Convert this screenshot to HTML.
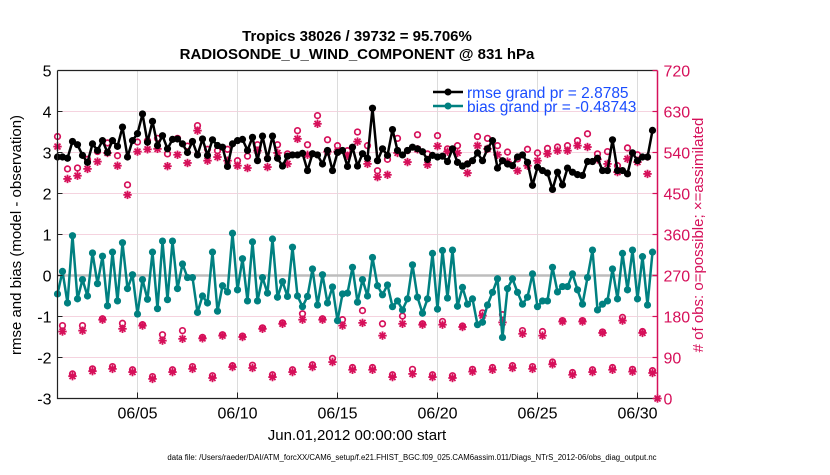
<!DOCTYPE html>
<html><head><meta charset="utf-8"><style>
body{margin:0;background:#fff;}
svg{font-family:"Liberation Sans",sans-serif;}
</style></head><body>
<svg id="chart" width="830" height="470" viewBox="0 0 830 470" xmlns="http://www.w3.org/2000/svg">
<g id="grid"></g>
<g id="marks"></g>
<g id="axes"></g>
<text x="357" y="41" text-anchor="middle" font-size="15" font-weight="bold">Tropics 38026 / 39732 = 95.706%</text>
<text x="357" y="59" text-anchor="middle" font-size="15" font-weight="bold">RADIOSONDE_U_WIND_COMPONENT @ 831 hPa</text>
<text transform="translate(21,235) rotate(-90)" text-anchor="middle" font-size="15">rmse and bias (model - observation)</text>
<text transform="translate(703,235) rotate(-90)" text-anchor="middle" font-size="15" fill="#d6105a"># of obs: o=possible; ×=assimilated</text>
<text x="357" y="440" text-anchor="middle" font-size="15">Jun.01,2012 00:00:00 start</text>
<text x="412" y="460" text-anchor="middle" font-size="7.8">data file: /Users/raeder/DAI/ATM_forcXX/CAM6_setup/f.e21.FHIST_BGC.f09_025.CAM6assim.011/Diags_NTrS_2012-06/obs_diag_output.nc</text>
<g>
<line x1="433" y1="92" x2="463" y2="92" stroke="#000" stroke-width="2.5"/>
<circle cx="448" cy="92" r="3.5" fill="#000"/>
<text x="467" y="98" font-size="15.5" fill="#1a4dff">rmse grand pr = 2.8785</text>
<line x1="433" y1="106" x2="463" y2="106" stroke="#008080" stroke-width="2.5"/>
<circle cx="448" cy="106" r="3.5" fill="#008080"/>
<text x="467" y="112" font-size="15.5" fill="#1a4dff">bias grand pr = -0.48743</text>
</g>
</svg>
<script>
const rmse=[2.89,2.89,2.86,3.27,3.19,2.93,2.76,3.21,3.05,3.29,3.0,3.29,3.15,3.62,2.89,3.29,3.46,3.94,3.25,3.76,3.17,3.41,3.09,3.32,3.33,3.21,3.0,3.27,2.94,3.33,2.93,3.31,3.17,3.13,2.66,3.21,3.29,3.32,3.05,3.37,
2.8,3.4,2.85,3.4,2.86,2.67,2.91,2.94,2.94,2.98,2.56,2.97,2.94,2.72,3.05,2.56,3.0,3.05,2.66,3.13,2.67,2.97,2.86,4.08,2.8,3.09,2.93,3.56,3.05,2.94,3.05,3.13,3.09,3.02,2.83,2.93,2.89,2.91,2.78,3.09,
2.76,2.67,2.72,2.8,2.99,2.8,3.09,3.29,2.62,2.8,2.72,2.68,2.89,2.94,2.76,2.2,2.64,2.56,2.5,2.1,2.52,2.21,2.62,2.52,2.46,2.44,2.78,2.78,2.86,2.56,2.56,3.31,2.56,2.56,2.48,2.99,2.8,2.89,2.89,3.54];
const bias=[-0.45,0.1,-0.67,0.97,-0.57,-0.1,-0.5,0.55,-0.2,0.47,-0.74,0.57,-0.62,0.8,-0.32,0.02,-0.94,-0.1,-0.58,0.57,-0.81,0.84,-0.59,0.84,-0.32,0.28,-0.05,-0.05,-0.9,-0.5,-0.67,0.57,-0.87,-0.25,-0.4,1.03,-0.35,0.41,-0.62,0.82,
-0.62,-0.05,-0.43,0.89,-0.53,-0.15,-0.51,0.69,-0.5,-0.76,-0.51,0.16,-0.72,0.02,-0.67,-0.28,-1.1,-0.45,-0.43,0.2,-0.65,-0.1,-0.5,0.44,-0.25,-0.47,-0.23,-0.76,-0.62,-0.84,-0.57,0.26,-0.53,-0.92,-0.57,0.54,-0.82,0.61,-0.55,0.62,
-0.75,-0.29,-0.7,-0.57,-1.2,-1.14,-0.72,-0.41,-0.08,-1.51,-0.32,-0.08,-0.41,-0.7,-0.53,0.04,-0.76,-0.62,-0.62,0.2,-0.4,-0.27,-0.27,0.04,-0.35,-0.7,-0.05,0.62,-0.84,-0.7,-0.62,0.16,-0.57,0.54,-0.35,0.62,-0.57,0.46,-0.72,0.57];
// obs counts at 00Z/12Z (every 12h from day 0)
const possMain=[575,504,506,525,542,561,533,469,563,566,571,537,571,554,599,547,544,547,522,532,557,527,557,537,588,557,621,568,555,544,585,555,500,525,571,544,579,537,577,548,555,515,575,571,555,541,526,547,539,549,552,555,566,581,537,542,511,550,535,530,0];
const assimMain=[553,482,489,504,520,539,511,447,542,547,548,510,535,517,588,522,530,522,511,506,544,508,539,515,570,535,603,542,542,533,564,515,486,491,539,519,547,513,554,542,539,495,555,548,535,520,500,511,522,537,544,544,555,552,525,515,497,526,519,493,0];
// obs counts at 06Z (daily)
const poss06=[160,160,175,165,162,140,149,134,140,137,155,166,186,175,173,193,164,181,164,169,159,188,184,149,147,171,171,146,178,147];
const assim06=[147,149,173,153,160,127,131,132,138,135,153,164,173,173,160,166,138,164,162,162,157,182,167,142,138,169,169,144,171,144];
// obs counts at 18Z (daily)
const poss18=[54,65,70,63,48,63,70,50,72,73,52,63,74,88,68,68,52,64,52,50,64,68,72,70,80,57,63,68,64,61];
const assim18=[49,60,65,58,43,58,65,45,69,67,47,58,69,80,63,63,47,54,47,45,59,63,67,65,75,52,58,63,59,56];
const yTicks=[5,4,3,2,1,0,-1,-2,-3];
const y2Ticks=[720,630,540,450,360,270,180,90,0];
const xTickDays=[4,9,14,19,24,29];
const xTickLabels=['06/05','06/10','06/15','06/20','06/25','06/30'];

const NS='http://www.w3.org/2000/svg';
const L=57.5,R=657.5,T=70.5,B=398.5;
const xs=d=>L+(d/30)*(R-L);
const ys=v=>T+(5-v)/8*(B-T);
const y2s=c=>B-c/720*(B-T);
const MAG='#d6105a';
function mk(tag,attrs,parent){const e=document.createElementNS(NS,tag);for(const k in attrs)e.setAttribute(k,attrs[k]);parent.appendChild(e);return e;}
const grid=document.getElementById('grid'),marks=document.getElementById('marks'),axes=document.getElementById('axes');

y2Ticks.forEach(c=>{const g=mk('line',{x1:L,x2:R,y1:y2s(c),y2:y2s(c),stroke:'#f5d3df','stroke-width':1},grid);

});
xTickDays.forEach(d=>{const g=mk('line',{x1:xs(d),x2:xs(d),y1:T,y2:B,stroke:'#dcdcdc','stroke-width':1},grid);

});
const z=mk('line',{x1:L,x2:R,y1:ys(0),y2:ys(0),stroke:'#bdbdbd','stroke-width':2.5},grid);



function star(cx,cy,parent,name){const g=mk('g',{stroke:MAG,'stroke-width':1.8},parent);


const r=4.2;for(let i=0;i<4;i++){const a=i*Math.PI/4;mk('line',{x1:cx-r*Math.cos(a),y1:cy-r*Math.sin(a),x2:cx+r*Math.cos(a),y2:cy+r*Math.sin(a)},g);}}
function ring(cx,cy,parent,name){const c=mk('circle',{cx:cx,cy:cy,r:2.8,fill:'none',stroke:MAG,'stroke-width':1.7},parent);

}
function obs(poss,assim,off,step){poss.forEach((c,i)=>{if(c>0)ring(xs(off+i*step),y2s(c),marks,'possible-obs-marker');});
assim.forEach((c,i)=>{star(xs(off+i*step),y2s(c),marks,'assimilated-obs-marker');});}
obs(possMain,assimMain,0,0.5);
obs(poss06,assim06,0.25,1);
obs(poss18,assim18,0.75,1);

function series(vals,color,name){const pts=vals.map((v,i)=>xs(i*0.25).toFixed(1)+','+ys(v).toFixed(1)).join(' ');
const p=mk('polyline',{points:pts,fill:'none',stroke:color,'stroke-width':2.5,'stroke-linejoin':'round'},marks);


vals.forEach((v,i)=>{const c=mk('circle',{cx:xs(i*0.25),cy:ys(v),r:3.6,fill:color},marks);

});}
series(rmse,'#000','rmse');
series(bias,'#008080','bias');

const frame=mk('path',{d:`M${L},${T} H${R} M${L},${T} V${B} H${R}`,stroke:'#222','stroke-width':1.2,fill:'none'},axes);


const ra=mk('line',{x1:R,x2:R,y1:T,y2:B,stroke:MAG,'stroke-width':1.5},axes);


yTicks.forEach(v=>{const y=ys(v);mk('line',{x1:L,x2:L+5,y1:y,y2:y,stroke:'#222'},axes);
const t=mk('text',{x:L-6,y:y+6,'text-anchor':'end','font-size':16},axes);t.textContent=v;

});
y2Ticks.forEach(c=>{const y=y2s(c);mk('line',{x1:R-5,x2:R,y1:y,y2:y,stroke:MAG,'stroke-width':1.2},axes);
const t=mk('text',{x:R+6,y:y+6,'font-size':16,fill:MAG},axes);t.textContent=c;

});
xTickDays.forEach((d,i)=>{const x=xs(d);mk('line',{x1:x,x2:x,y1:B,y2:B-6,stroke:'#222'},axes);
const t=mk('text',{x:x,y:B+20,'text-anchor':'middle','font-size':16},axes);t.textContent=xTickLabels[i];

});
</script>
</body></html>
